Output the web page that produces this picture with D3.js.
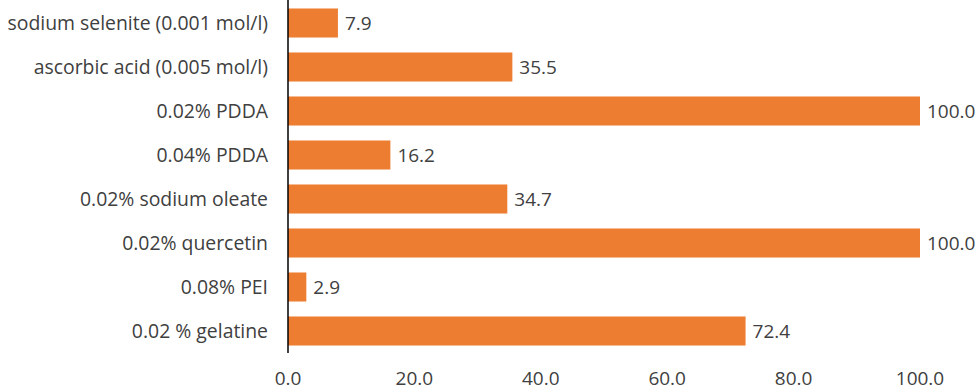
<!DOCTYPE html>
<html>
<head>
<meta charset="utf-8">
<script src="https://cdn.jsdelivr.net/npm/d3@7"></script>
<style>
  body { margin: 0; background: #fff; }
  text { font-family: "Open Sans", "Noto Sans", sans-serif; fill: #404040; }
</style>
</head>
<body>
<div id="chart"></div>
<script>
let width = 979,
    height = 390,
    margin = ({ top: 1, right: 59, bottom: 37, left: 288 });

const categories = [
  "sodium selenite (0.001 mol/l)",
  "ascorbic acid (0.005 mol/l)",
  "0.02% PDDA",
  "0.04% PDDA",
  "0.02% sodium oleate",
  "0.02% quercetin",
  "0.08% PEI",
  "0.02 % gelatine"
];
const values = [7.9, 35.5, 100.0, 16.2, 34.7, 100.0, 2.9, 72.4];
const xTicks = [0, 20, 40, 60, 80, 100];

const data = categories.map((c, i) => ({ name: c, value: values[i] }));

const svg = d3.select("#chart")
  .append("svg")
  .attr("width", width)
  .attr("height", height);

let x = d3.scaleLinear()
  .domain([0, 100])
  .range([margin.left, width - margin.right]);

let y = d3.scaleBand()
  .domain(categories)
  .range([margin.top, height - margin.bottom])
  .paddingInner(0.34)
  .paddingOuter(0.17);

svg.append("g")
  .selectAll("rect")
  .data(data)
  .join("rect")
  .attr("x", x(0))
  .attr("y", d => y(d.name))
  .attr("width", d => x(d.value) - x(0))
  .attr("height", y.bandwidth())
  .attr("fill", "#ED7D31");

svg.append("g")
  .selectAll("text")
  .data(data)
  .join("text")
  .attr("x", d => x(d.value) + 7)
  .attr("y", d => y(d.name) + y.bandwidth() / 2)
  .attr("dy", "0.35em")
  .style("font-size", "19px")
  .text(d => d3.format(".1f")(d.value));

// category labels
svg.append("g")
  .selectAll("text")
  .data(categories)
  .join("text")
  .attr("x", margin.left - 20)
  .attr("y", d => y(d) + y.bandwidth() / 2)
  .attr("dy", "0.35em")
  .attr("text-anchor", "end")
  .style("font-size", "19.4px")
  .text(d => d);

// x tick labels
svg.append("g")
  .selectAll("text")
  .data(xTicks)
  .join("text")
  .attr("x", d => x(d))
  .attr("y", 378)
  .attr("dy", "0.35em")
  .attr("text-anchor", "middle")
  .style("font-size", "19px")
  .text(d => d3.format(".1f")(d));

svg.append("line")
  .attr("x1", x(0))
  .attr("x2", x(0))
  .attr("y1", 0)
  .attr("y2", height - margin.bottom)
  .attr("stroke", "#000")
  .attr("stroke-width", 1.5);
</script>
</body>
</html>
